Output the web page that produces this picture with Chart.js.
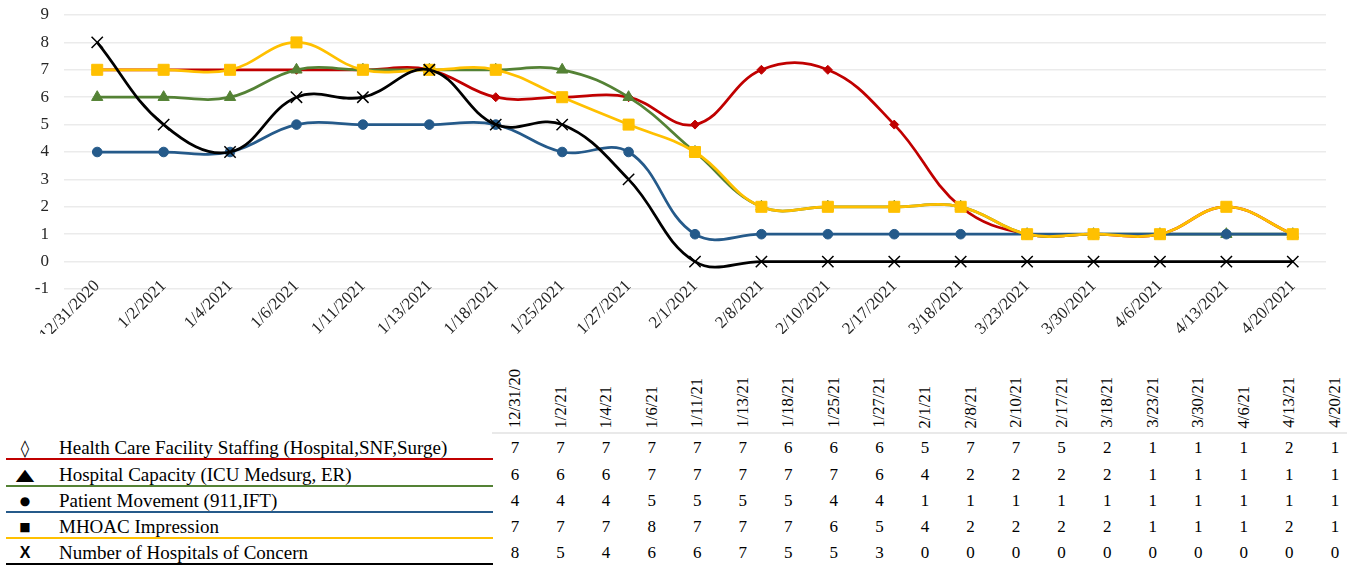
<!DOCTYPE html>
<html><head><meta charset="utf-8">
<script src="https://cdn.jsdelivr.net/npm/chart.js@4/dist/chart.umd.min.js"></script>
<style>
html,body{margin:0;padding:0;background:#fff;}
#page{position:relative;width:1352px;height:565px;overflow:hidden;font-family:'Liberation Serif','Times New Roman',serif;color:#000;}
#chartBox{position:absolute;left:0;top:0;width:1352px;height:334px;}
.hdr{position:absolute;writing-mode:vertical-rl;transform:rotate(180deg);font-size:16.6px;line-height:20px;width:20px;white-space:nowrap;}
.val{position:absolute;font-size:17px;width:30px;text-align:center;line-height:20px;}
.leg{position:absolute;left:59px;font-size:19px;line-height:20px;white-space:nowrap;}
.sym{position:absolute;width:30px;text-align:center;line-height:20px;}
.rule{position:absolute;height:2px;}
</style>
</head><body>
<div id="page">
  <div id="chartBox"><canvas id="c" width="1352" height="334"></canvas></div>
</div>
<script>
// ---- data ----
const categories = ["12/31/2020","1/2/2021","1/4/2021","1/6/2021","1/11/2021","1/13/2021","1/18/2021","1/25/2021","1/27/2021","2/1/2021","2/8/2021","2/10/2021","2/17/2021","3/18/2021","3/23/2021","3/30/2021","4/6/2021","4/13/2021","4/20/2021"];
const tableLabels = ["12/31/20","1/2/21","1/4/21","1/6/21","1/11/21","1/13/21","1/18/21","1/25/21","1/27/21","2/1/21","2/8/21","2/10/21","2/17/21","3/18/21","3/23/21","3/30/21","4/6/21","4/13/21","4/20/21"];
const seriesNames = ["Health Care Facility Staffing (Hospital,SNF,Surge)","Hospital Capacity (ICU Medsurg, ER)","Patient Movement (911,IFT)","MHOAC Impression","Number of Hospitals of Concern"];
const staffing  = [7,7,7,7,7,7,6,6,6,5,7,7,5,2,1,1,1,2,1];
const capacity  = [6,6,6,7,7,7,7,7,6,4,2,2,2,2,1,1,1,1,1];
const movement  = [4,4,4,5,5,5,5,4,4,1,1,1,1,1,1,1,1,1,1];
const mhoac     = [7,7,7,8,7,7,7,6,5,4,2,2,2,2,1,1,1,2,1];
const hospitals = [8,5,4,6,6,7,5,5,3,0,0,0,0,0,0,0,0,0,0];
const yTicks = [-1,0,1,2,3,4,5,6,7,8,9];

// ---- styles ----
const seriesData = [staffing, capacity, movement, mhoac, hospitals];
const colors = ["#C00000","#548235","#255A8A","#FFC000","#000000"];
const pointStyles = ["rectRot","triangle","circle","rect","crossRot"];
const pointRadii = [4.5,6.5,4.8,7.8,8];
const legendSymbols = ["◊","▲","●","■","X"];
const symStyles = [
  "font-family:'DejaVu Sans';font-size:17px;",
  "font-family:'DejaVu Sans';font-size:24px;transform:scaleY(0.66);",
  "font-family:'DejaVu Sans';font-size:12px;",
  "font-family:'DejaVu Sans';font-size:12px;",
  "font-family:'Liberation Sans';font-weight:bold;font-size:16px;"
];

const datasets = seriesData.map((d,i)=>({
  label: seriesNames[i],
  data: d,
  borderColor: colors[i],
  backgroundColor: colors[i],
  pointBackgroundColor: colors[i],
  pointBorderColor: colors[i],
  pointStyle: pointStyles[i],
  pointRadius: pointRadii[i],
  pointBorderWidth: i===4 ? 1.5 : 1,
  borderWidth: 2.75,
  tension: 0.4,
  fill: false,
  order: 4 - i
}));

// lift the category-label band so rotated labels start just above the -1 line (as in the original)
const labelBandPlugin = {
  id: 'labelBand',
  afterLayout(chart) { const x = chart.scales.x; x.top = chart.chartArea.bottom - 14; }
};

new Chart(document.getElementById('c'), {
  type: 'line',
  data: { labels: categories, datasets },
  plugins: [labelBandPlugin],
  options: {
    responsive: false,
    animation: false,
    events: [],
    layout: { padding: { top: 15, right: 26, left: 0, bottom: 0 } },
    plugins: { legend: { display: false }, tooltip: { enabled: false } },
    scales: {
      x: {
        offset: true,
        grid: { display: false, drawTicks: false },
        border: { display: false },
        ticks: { autoSkip: false, minRotation: 45, maxRotation: 45, padding: 1,
                 color: '#262626', font: { family: "'Liberation Serif'", size: 17 } },
        afterFit: s => { s.height = 45; s.paddingLeft = 0; s.paddingRight = 0; }
      },
      y: {
        min: -1, max: 9,
        afterBuildTicks: s => { s.ticks = yTicks.map(v => ({ value: v })); },
        grid: { color: '#EBEBEB', lineWidth: 1.5, drawTicks: false },
        border: { display: false },
        ticks: { padding: 15, color: '#262626', font: { family: "'Liberation Serif'", size: 17 } },
        afterFit: s => { s.width = 64; s.paddingTop = 0; s.paddingBottom = 0; }
      }
    }
  }
});

// ---- data table ----
const page = document.getElementById('page');
const colX = tableLabels.map((_, i) => 515 + i * 45.55);
const rowY = [448, 474.5, 501, 527, 553];
const ruleY = [459, 486, 512, 538, 564];
function el(cls, css, text){ const e=document.createElement('div'); e.className=cls; e.style.cssText=css; if(text!==undefined) e.textContent=text; page.appendChild(e); return e; }
tableLabels.forEach((t,i)=> el('hdr', `left:${colX[i]-10}px;bottom:137px;`, t));
el('rule', `left:492px;top:432px;width:855px;background:#E9E9E9;`);
seriesData.forEach((d,r)=>{
  el('sym', `left:10px;top:${rowY[r]-10}px;${symStyles[r]}`, legendSymbols[r]);
  el('leg', `top:${rowY[r]-10}px;`, seriesNames[r]);
  el('rule', `left:6px;top:${ruleY[r]-1}px;width:487px;background:${colors[r]};`);
  d.forEach((v,i)=> el('val', `left:${colX[i]-15}px;top:${rowY[r]-10}px;`, String(v)));
});
</script>
</body></html>
